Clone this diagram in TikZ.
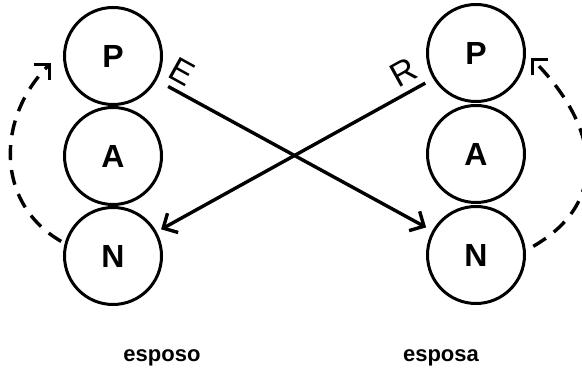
\documentclass[tikz,border=0pt]{standalone}
\usepackage{fontspec}
\setmainfont{Liberation Sans}
\usetikzlibrary{arrows.meta}

\begin{document}
\begin{tikzpicture}[x=1pt,y=1pt]
\tikzstyle{pan}=[draw,shape=circle,line width=3pt,minimum size=97pt,inner sep=0pt,font=\fontsize{32}{32}\selectfont\bfseries];
\tikzstyle{flecha}=[line width=3.4pt,-{Straight Barb[length=11pt,width=22pt]}];
\tikzstyle{lazo}=[flecha,dash pattern=on 15pt off 10pt];
\tikzstyle{letra}=[font=\fontsize{34}{34}\selectfont];
\tikzstyle{nombre}=[anchor=base,font=\fontsize{22}{22}\selectfont\bfseries];
\useasboundingbox (0,0) rectangle (582,378);
\foreach \t/\i in {P/0,A/1,N/2}
{
\path (113,322-100*\i) node[pan] (\t1) {\t};
\path (476,325-101*\i) node[pan] (\t2) {\t};
}
\draw[flecha,shorten <=13pt,shorten >=7pt] (P1.-29) -- (N2.151);
\draw[flecha,shorten <=9pt,shorten >=5pt] (P2.-149) -- (N1.29);
\draw[lazo] ([xshift=-4pt]N1.163) to[out=150,in=-135,looseness=1.1] ([shift={(-12,-7)}]P1.west);
\draw[lazo] ([xshift=8pt]N2.10) to[out=30,in=-45,looseness=1.25] ([shift={(5,-5)}]P2.east);
\node[letra,rotate=-29] (e) at (182,306) {E};
\node[letra,rotate=29] (r) at (404,306) {R};
\node[nombre] (esposo) at (162,16) {esposo};
\node[nombre] (esposa) at (441,16) {esposa};
\end{tikzpicture}
\end{document}
